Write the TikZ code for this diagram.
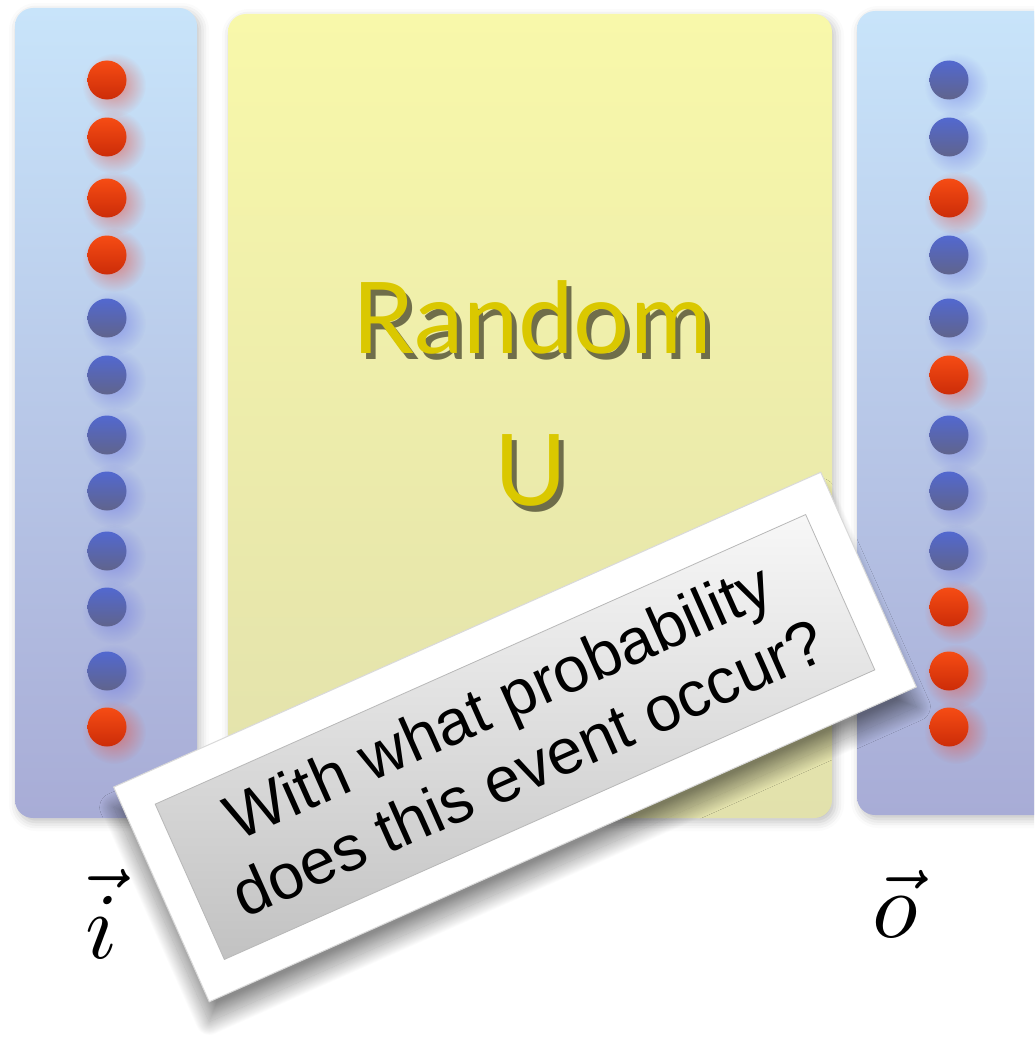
\documentclass[tikz,border=0pt]{standalone}
\usepackage{fontspec}
\newfontfamily\cardfamily{Liberation Sans}
\newfontfamily\titlefamily{Lato}
\usetikzlibrary{shadows.blur,fadings}

\definecolor{panetop}{RGB}{200,228,250}
\definecolor{panebot}{RGB}{168,172,214}
\definecolor{padtop}{RGB}{248,248,170}
\definecolor{padbot}{RGB}{226,225,172}
\definecolor{redtop}{RGB}{246,76,20}
\definecolor{redbot}{RGB}{204,44,8}
\definecolor{bluetop}{RGB}{82,104,208}
\definecolor{bluebot}{RGB}{96,100,140}
\definecolor{redglow}{RGB}{232,70,50}
\definecolor{blueglow}{RGB}{90,100,225}
\definecolor{titleyellow}{RGB}{218,200,0}
\definecolor{titleshade}{RGB}{58,56,34}
\tikzfading[name=glowfade, inner color=transparent!0, outer color=transparent!100]

\begin{document}
\begin{tikzpicture}[x=1pt,y=-1pt,
	panel/.style={rectangle, rounded corners=18pt, inner sep=0pt,
		top color=panetop, bottom color=panebot,
		blur shadow={shadow xshift=3pt, shadow yshift=-4pt, shadow blur radius=9pt, shadow opacity=25}},
	pad/.style={panel, top color=padtop, bottom color=padbot},
	ball red/.style={circle, inner sep=0pt, minimum size=39pt, top color=redtop, bottom color=redbot},
	ball blue/.style={ball red, top color=bluetop, bottom color=bluebot},
	halo red/.style={fill=redglow, path fading=glowfade, fill opacity=0.6},
	halo blue/.style={fill=blueglow, path fading=glowfade, fill opacity=0.5},
	title/.style={font=\titlefamily\fontsize{99}{99}\selectfont, text=titleyellow, anchor=base, inner sep=0pt},
	title shade/.style={title, text=titleshade, text opacity=0.7},
	vec label/.style={anchor=base, inner sep=0pt},
	card/.style={rectangle, fill=white, draw=black!15, line width=1pt, inner sep=0pt,
		minimum width=774pt, minimum height=235pt,
		blur shadow={shadow xshift=0pt, shadow yshift=-20pt, shadow blur radius=14pt,
			shadow blur steps=60, shadow opacity=45}},
	plate/.style={rectangle, top color=black!3, bottom color=black!24, draw=black!28, line width=0.8pt,
		inner sep=0pt, minimum width=712pt, minimum height=170pt},
	question/.style={font=\cardfamily\fontsize{64}{73}\selectfont, align=center, inner sep=0pt}]
	\newcommand{\inx}{107}
	\newcommand{\outx}{949}
	\useasboundingbox (0,0) rectangle (1034,1049);
	\clip (0,0) rectangle (1034,1049);
	%panels
	\node [panel, minimum width=182pt, minimum height=810pt] (inpanel) at (106,413) {};
	\node [pad, minimum width=604pt, minimum height=804pt] (unitary) at (530,416) {};
	\node [panel, minimum width=203pt, minimum height=804pt] (outpanel) at (958.5,413) {};
	%input and output qubits
	\foreach \y/\c [count=\k] in {80/red,137/red,198/red,255/red,318/blue,375/blue,
			435/blue,491/blue,551/blue,607/blue,671/blue,727/red} {
		\fill [halo \c] (\inx+7,\y+5) circle (32pt);
		\node [ball \c] (in\k) at (\inx,\y) {};
	}
	\foreach \y/\c [count=\k] in {80/blue,137/blue,198/red,255/blue,318/blue,375/red,
			435/blue,491/blue,551/blue,607/red,671/red,727/red} {
		\fill [halo \c] (\outx+7,\y+5) circle (32pt);
		\node [ball \c] (out\k) at (\outx,\y) {};
	}
	%title
	\node [title shade] (randomshade) at (537,359) {Random};
	\node [title shade] (ushade) at (536,511) {U};
	\node [title] (random) at (532,353) {Random};
	\node [title] (u) at (531,505) {U};
	%labels
	\node [vec label] (inlabel) at (102,958) {\scalebox{9.4}{$\vec{i}$}};
	\node [vec label] (outlabel) at (895,937) {\scalebox{9.4}{$\vec{o}$}};
	%question card
	\node [card, rotate=24] (card) at (515,737) {};
	\node [plate, rotate=24] (plate) at (card.center) {};
	\node [question, rotate=24] (question) at ([shift={(-2,-3)}]card.center) {With what probability\\does this event occur?};
\end{tikzpicture}
\end{document}
